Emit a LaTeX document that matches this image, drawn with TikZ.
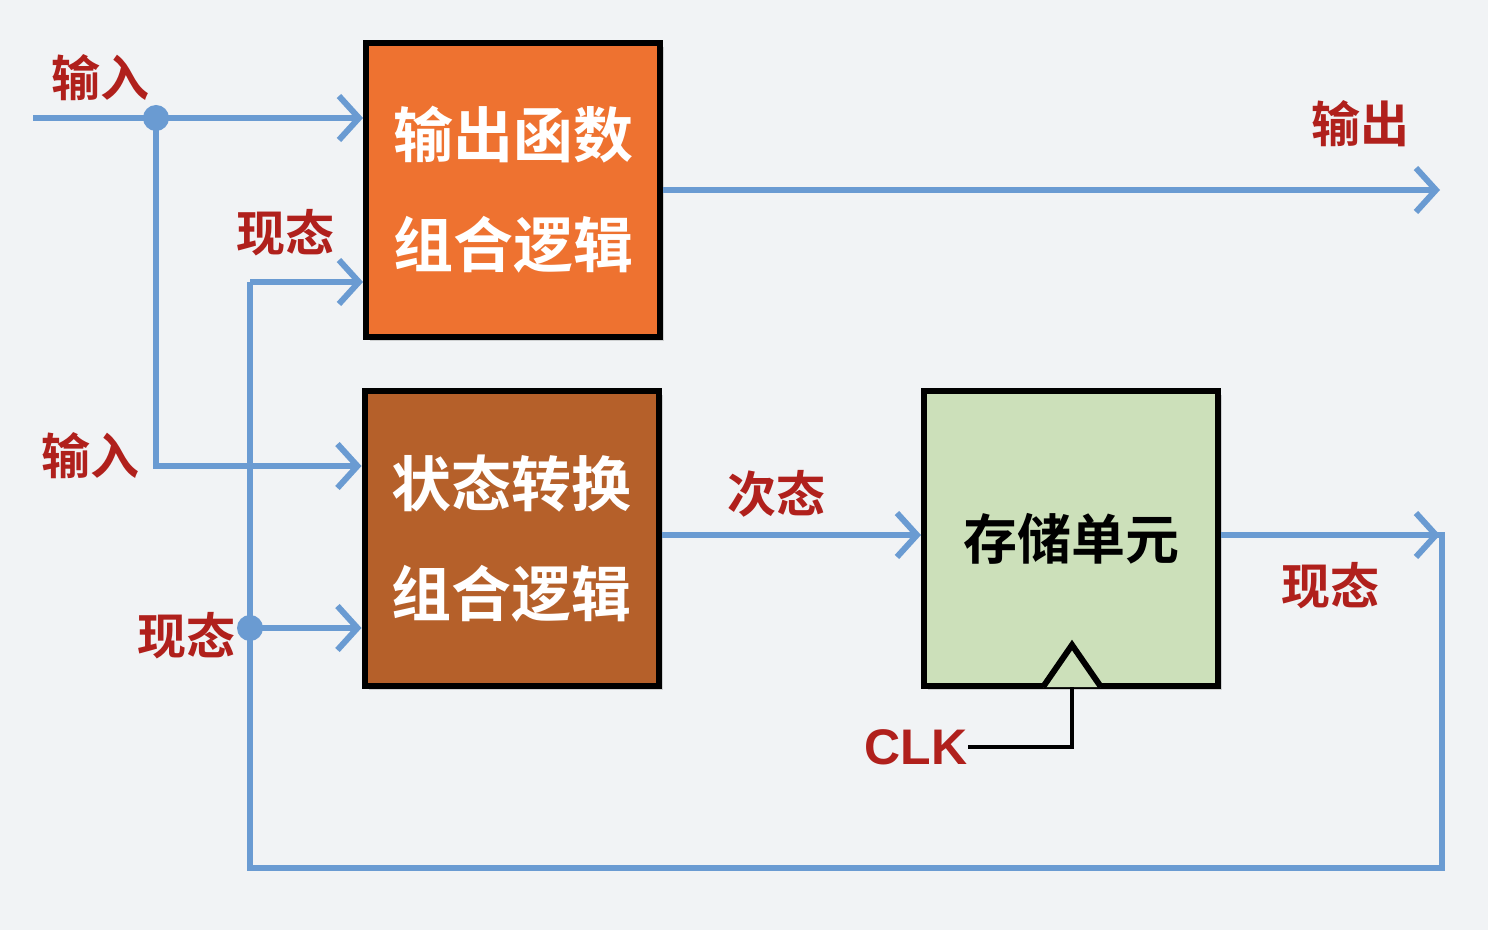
\documentclass[tikz,border=0pt]{standalone}
\usepackage{fontspec}
\newfontfamily\cjk{Noto Sans CJK SC Bold}[BoldFont=Noto Sans CJK SC Bold]
\newfontfamily\lat{Liberation Sans}
\setmainfont{Noto Sans CJK SC Bold}
\usetikzlibrary{arrows.meta,shadows}
\definecolor{bl}{HTML}{6A9BD2}
\definecolor{rd}{HTML}{B0201C}
\definecolor{org}{HTML}{EE7230}
\definecolor{brn}{HTML}{B5602A}
\definecolor{grn}{HTML}{CCE0BA}
\definecolor{bg}{HTML}{F1F3F5}
\begin{document}
\begin{tikzpicture}[x=0.5pt,y=-0.5pt,
  blk/.style={draw=black,line width=3pt,minimum width=147pt,minimum height=147pt,inner sep=0pt,drop shadow={shadow xshift=2pt,shadow yshift=-2pt,opacity=0.3}},
  wire/.style={draw=bl,line width=3pt},
  arr/.style={wire,-{Straight Barb[length=10pt,width=22pt,line width=3pt]}},
  lab/.style={text=rd,font=\cjk\fontsize{24.5}{26}\selectfont},
  btxt/.style={font=\cjk\fontsize{30}{55}\selectfont,align=center},
  dot/.style={circle,fill=bl,inner sep=0pt,minimum size=13pt}]
\fill[bg] (0,0) rectangle (1488,930);
\node[blk,fill=org,text=white,btxt] (f1) at (513,190) {输出函数\\组合逻辑};
\node[blk,fill=brn,text=white,btxt] (f2) at (511.5,538.5) {状态转换\\组合逻辑};
\node[blk,fill=grn,font=\cjk\fontsize{27}{30}\selectfont] (m) at (1071,538.5) {存储单元};
\coordinate (in0) at (33,118);
\coordinate (j1) at (156,118);
\coordinate (j1b) at (156,466);
\coordinate (r1) at (1442,535);
\coordinate (r2) at (1442,868);
\coordinate (l2) at (250,868);
\coordinate (l1) at (250,282);
\coordinate (j2) at (250,628);
\coordinate (o1) at (1440,190);
\draw[arr] (in0) -- (f1.west |- in0);
\draw[arr] (j1) -- (j1b) -- (f2.west |- j1b);
\draw[wire] (m.east |- r1) -- (r1) -- (r2) -- (l2) -- (l1);
\draw[arr] (l1) -- (f1.west |- l1);
\draw[arr] (j2) -- (f2.west |- j2);
\draw[arr] (f1.east |- o1) -- (o1);
\draw[arr] (f2.east |- 0,535) -- (m.west |- 0,535);
\draw[arr] (m.east |- r1) -- (1440,535);
\node[dot] (d1) at (j1) {};
\node[dot] (d2) at (j2) {};
\coordinate (ck) at (1072,687);
\coordinate (ckb) at (1072,747);
\draw[black,line width=3pt,fill=grn,line join=miter] (1043,687) -- (1072,645) -- (1101,687);
\node[text=rd,font=\lat\bfseries\fontsize{25}{27}\selectfont,anchor=east,inner sep=0pt] (clk) at (968,747) {CLK};
\draw[black,line width=2pt] (ck) -- (ckb) -- (clk.east);
\node[lab] at (100,78) {输入};
\node[lab] at (285,233) {现态};
\node[lab] at (90,456) {输入};
\node[lab] at (186,636) {现态};
\node[lab] at (776,494) {次态};
\node[lab] at (1360,124) {输出};
\node[lab] at (1330,586) {现态};
\end{tikzpicture}
\end{document}
